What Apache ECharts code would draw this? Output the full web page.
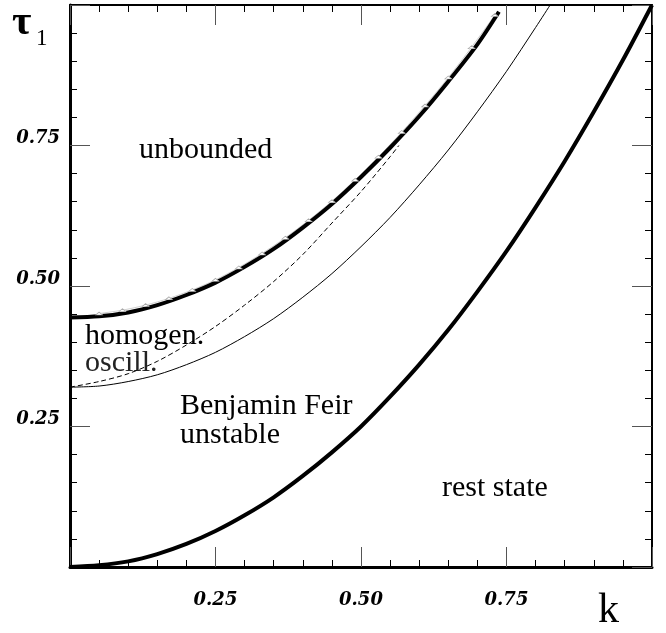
<!DOCTYPE html>
<html>
<head>
<meta charset="utf-8">
<script src="https://cdn.jsdelivr.net/npm/echarts@6/dist/echarts.min.js"></script>
<style>
  html, body { margin: 0; padding: 0; background: #fff; }
  #chart { width: 666px; height: 633px; }
</style>
</head>
<body>
<div id="chart"></div>
<script>
// values (k on x, tau_1 on y)
const kUpper = [0, 0.05, 0.10, 0.15, 0.20, 0.25, 0.30, 0.35, 0.40, 0.45, 0.50, 0.55, 0.60, 0.65, 0.70, 0.737];
const tauUpper = [0.444, 0.446, 0.453, 0.466, 0.484, 0.506, 0.534, 0.566, 0.604, 0.646, 0.694, 0.746, 0.802, 0.864, 0.930, 0.988];

const kSerr = [0.05, 0.09, 0.13, 0.17, 0.21, 0.25, 0.29, 0.33, 0.37, 0.41, 0.45, 0.49, 0.53, 0.57, 0.61, 0.65, 0.69, 0.73];
const tauSerr = [0.451, 0.457, 0.466, 0.478, 0.493, 0.511, 0.533, 0.558, 0.586, 0.617, 0.651, 0.689, 0.730, 0.774, 0.821, 0.871, 0.925, 0.982];

const kDashed = [0, 0.05, 0.10, 0.15, 0.20, 0.25, 0.30, 0.35, 0.40, 0.45, 0.50, 0.55, 0.565];
const tauDashed = [0.320, 0.330, 0.344, 0.366, 0.395, 0.428, 0.466, 0.508, 0.556, 0.612, 0.668, 0.730, 0.750];

const kBF = [0, 0.05, 0.10, 0.15, 0.20, 0.25, 0.30, 0.35, 0.40, 0.45, 0.50, 0.55, 0.60, 0.65, 0.70, 0.75, 0.80, 0.825];
const tauBF = [0.320, 0.322, 0.330, 0.342, 0.360, 0.382, 0.410, 0.442, 0.480, 0.522, 0.570, 0.622, 0.680, 0.742, 0.810, 0.882, 0.960, 1.0];

const kRest = [0, 0.05, 0.10, 0.15, 0.20, 0.25, 0.30, 0.35, 0.40, 0.45, 0.50, 0.55, 0.60, 0.65, 0.70, 0.75, 0.80, 0.85, 0.90, 0.95, 1.0];
const tauRest = [0, 0.003, 0.010, 0.023, 0.041, 0.064, 0.092, 0.124, 0.162, 0.204, 0.250, 0.303, 0.360, 0.422, 0.490, 0.562, 0.640, 0.722, 0.810, 0.902, 1.0];

const tickLabels = ['0.25', '0.50', '0.75'];

const pairs = (xs, ys) => xs.map((x, i) => [x, ys[i]]);

const labelFont = 'Liberation Serif, Times New Roman, serif';
const tickFont = {
    fontFamily: 'DejaVu Serif',
    fontStyle: 'italic',
    fontWeight: 'bold',
    fontSize: 18,
    color: '#000'
};
const fmt = v => {
    const s = v.toFixed(2);
    return tickLabels.includes(s) ? s : '';
};

const axisCommon = {
    type: 'value',
    min: 0,
    max: 1,
    interval: 0.25,
    splitLine: { show: false },
    axisTick: { show: true, inside: true, length: 20, lineStyle: { color: '#555', width: 1 } },
    minorTick: { show: true, splitNumber: 5, length: 7, lineStyle: { color: '#000', width: 1 } }
};

const chart = echarts.init(document.getElementById('chart'));

const option = {
    animation: false,
    backgroundColor: '#fff',
    grid: { left: 70, top: 5, right: 14, bottom: 66 },
    xAxis: [
        Object.assign({}, axisCommon, {
            position: 'bottom',
            axisLine: { show: true, onZero: false, lineStyle: { color: '#000', width: 3 } },
            axisLabel: Object.assign({ margin: 24, formatter: fmt }, tickFont)
        }),
        Object.assign({}, axisCommon, {
            position: 'top',
            axisLine: { show: true, onZero: false, lineStyle: { color: '#000', width: 2 } },
            axisLabel: { show: false }
        })
    ],
    yAxis: [
        Object.assign({}, axisCommon, {
            position: 'left',
            axisLine: { show: true, onZero: false, lineStyle: { color: '#000', width: 3 } },
            axisLabel: Object.assign({ margin: 10, formatter: fmt, verticalAlign: 'bottom', lineHeight: 14 }, tickFont)
        }),
        Object.assign({}, axisCommon, {
            position: 'right',
            axisLine: { show: true, onZero: false, lineStyle: { color: '#000', width: 2 } },
            axisLabel: { show: false }
        })
    ],
    series: [
        {
            name: 'serration',
            type: 'line',
            data: pairs(kSerr, tauSerr),
            smooth: 0.3,
            symbol: 'triangle',
            symbolSize: [7, 3],
            itemStyle: { color: '#fff', borderColor: '#aaa', borderWidth: 0.7 },
            lineStyle: { color: '#bbb', width: 0.7 }
        },
        {
            name: 'homogeneous oscillation',
            type: 'line',
            data: pairs(kDashed, tauDashed),
            smooth: 0.3,
            showSymbol: false,
            lineStyle: { color: '#000', width: 1, type: [5, 3] }
        },
        {
            name: 'unbounded',
            type: 'line',
            data: pairs(kUpper, tauUpper),
            smooth: 0.3,
            showSymbol: false,
            lineStyle: { color: '#000', width: 4 }
        },
        {
            name: 'Benjamin Feir',
            type: 'line',
            data: pairs(kBF, tauBF),
            smooth: 0.3,
            showSymbol: false,
            lineStyle: { color: '#000', width: 1 }
        },
        {
            name: 'rest state',
            type: 'line',
            data: pairs(kRest, tauRest),
            smooth: 0.3,
            showSymbol: false,
            lineStyle: { color: '#000', width: 4 }
        }
    ],
    graphic: [
        { type: 'text', left: 139, top: 135, style: { text: 'unbounded', font: '30px ' + labelFont, fill: '#000' } },
        { type: 'text', left: 85, top: 321, style: { text: 'homogen.', font: '30px ' + labelFont, fill: '#000' } },
        { type: 'text', left: 85, top: 348, style: { text: 'oscill.', font: '30px ' + labelFont, fill: '#222' } },
        { type: 'text', left: 180, top: 391, style: { text: 'Benjamin Feir', font: '30px ' + labelFont, fill: '#000' } },
        { type: 'text', left: 180, top: 420, style: { text: 'unstable', font: '30px ' + labelFont, fill: '#000' } },
        { type: 'text', left: 442, top: 473, style: { text: 'rest state', font: '30px ' + labelFont, fill: '#000' } },
        { type: 'text', left: 12, top: 2, style: { text: 'τ', font: 'bold 42px ' + labelFont, fill: '#000' } },
        { type: 'text', left: 36, top: 27, style: { text: '1', font: '23px ' + labelFont, fill: '#000' } },
        { type: 'text', left: 598, top: 590, style: { text: 'k', font: '42px ' + labelFont, fill: '#000' } }
    ]
};

chart.setOption(option);
</script>
</body>
</html>
